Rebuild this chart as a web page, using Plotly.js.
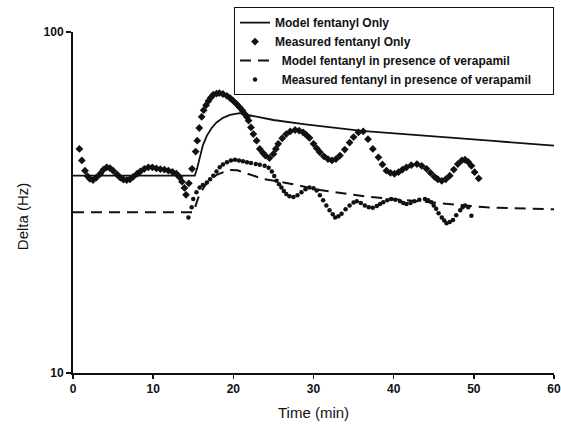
<!DOCTYPE html>
<html>
<head>
<meta charset="utf-8">
<script src="https://cdn.plot.ly/plotly-3.0.1.min.js"></script>
<style>html,body{margin:0;padding:0;background:#fff;}#chart{width:561px;height:434px;}</style>
</head>
<body>
<div id="chart"></div>
<script>
// Model fentanyl only
const modelFentT = [0, 15.2, 15.5, 15.8, 16.2, 16.7, 17.3, 17.9, 18.7, 19.6, 20.8, 21.6, 22, 25, 29, 36, 44, 52, 60];
const modelFentV = [37.9, 37.9, 40, 42.9, 46.5, 49.7, 52.3, 54.3, 56, 57.1, 57.8, 57.3, 57, 55.2, 53.6, 51.3, 49.5, 48, 46.4];

// Measured fentanyl only
const measFentT = [0.8, 1.1, 1.5, 1.8, 2.1, 2.5, 2.9, 3.4, 3.8, 4.2, 4.6, 5.0, 5.5, 5.9, 6.3, 6.7, 7.1, 7.5, 8.0, 8.4, 8.9, 9.4, 9.9, 10.4, 10.9, 11.4, 11.9, 12.4, 12.9, 13.3, 13.6, 13.9, 14.1, 14.45, 14.85, 15.3, 15.5, 15.75, 16.05, 16.3, 16.6, 16.9, 17.2, 17.5, 17.9, 18.25, 18.7, 19.2, 19.6, 20.0, 20.4, 20.8, 21.15, 21.45, 21.7, 21.9, 22.2, 22.5, 22.9, 23.3, 23.7, 24.0, 24.5, 25.0, 25.3, 25.6, 26.1, 26.6, 27.1, 27.7, 28.2, 28.7, 29.1, 29.5, 30.0, 30.4, 30.8, 31.3, 31.8, 32.3, 32.8, 33.3, 33.9, 34.5, 35.0, 35.6, 36.2, 36.8, 37.4, 38.1, 38.6, 39.1, 39.6, 40.1, 40.6, 41.1, 41.6, 42.2, 42.9, 43.5, 44.1, 44.6, 45.1, 45.5, 46.0, 46.5, 47.0, 47.5, 48.0, 48.5, 48.9, 49.3, 49.7, 50.1, 50.6];
const measFentV = [45.4, 42.0, 39.2, 37.8, 37.1, 36.8, 37.4, 38.4, 39.5, 40.1, 39.9, 39.2, 38.2, 37.4, 36.9, 36.8, 37.0, 37.6, 38.4, 39.0, 39.7, 40.1, 40.1, 39.8, 39.6, 39.5, 39.2, 38.9, 38.4, 37.5, 36.4, 34.9, 33.3, 36.0, 39.7, 44.6, 48.0, 52.3, 56.4, 59.0, 61.0, 62.8, 64.3, 65.5, 66.0, 66.2, 65.8, 65.0, 64.0, 62.8, 61.5, 60.1, 58.8, 57.4, 56.3, 55.0, 52.5, 50.2, 48.0, 45.4, 44.2, 43.4, 42.7, 43.9, 45.4, 47.0, 48.8, 50.2, 51.1, 51.6, 51.4, 50.8, 49.9, 48.9, 47.0, 45.6, 44.4, 43.2, 42.4, 42.0, 42.4, 43.4, 45.2, 47.4, 49.2, 50.8, 51.1, 48.5, 45.4, 42.9, 40.9, 39.2, 38.6, 38.4, 38.8, 39.5, 40.1, 40.7, 41.0, 40.5, 39.7, 38.6, 37.6, 37.0, 36.6, 37.0, 37.9, 39.5, 41.0, 42.0, 42.2, 41.6, 40.5, 38.8, 37.2];

// Model fentanyl in presence of verapamil
const modelVeraT = [0, 15, 15.3, 15.7, 16.3, 17, 18, 19.5, 20.5, 21.6, 23.7, 27.1, 29.1, 30.8, 36.6, 44.5, 51.6, 60];
const modelVeraV = [29.6, 29.6, 31, 33, 35, 36.8, 38.2, 39.4, 39.3, 38.5, 37.1, 35.9, 35, 34.4, 32.9, 31.7, 30.6, 30.2];

// Measured fentanyl in presence of verapamil
const measVeraT = [14.4, 14.8, 15.0, 15.4, 15.8, 16.2, 16.7, 17.1, 17.5, 17.9, 18.3, 18.7, 19.2, 19.7, 20.2, 20.7, 21.2, 21.7, 22.2, 22.8, 23.3, 23.9, 24.4, 24.8, 25.1, 25.4, 25.7, 26.0, 26.3, 26.6, 27.0, 27.5, 28.0, 28.5, 29.0, 29.5, 30.0, 30.4, 30.8, 31.2, 31.6, 32.0, 32.4, 32.7, 33.1, 33.5, 34.0, 34.5, 35.0, 35.4, 35.9, 36.4, 36.9, 37.4, 37.9, 38.3, 38.7, 39.2, 39.7, 40.2, 40.8, 41.2, 41.6, 42.1, 42.6, 43.2, 43.9, 44.3, 44.7, 45.0, 45.3, 45.6, 46.0, 46.3, 46.6, 47.0, 47.4, 47.8, 48.3, 48.6, 48.9, 49.3, 49.7];
const measVeraV = [28.6, 30.6, 32.4, 33.9, 35.0, 35.6, 36.2, 37.0, 37.9, 39.0, 40.1, 40.9, 41.5, 42.0, 42.2, 42.0, 41.8, 41.5, 41.3, 41.0, 40.8, 40.5, 40.0, 39.0, 37.8, 36.6, 35.8, 35.0, 34.2, 33.5, 33.0, 32.8, 33.2, 33.9, 34.6, 35.0, 34.8, 34.3, 33.2, 32.1, 31.0, 30.0, 29.2, 28.6, 28.8, 29.3, 30.2, 31.0, 31.6, 31.9, 31.5, 31.0, 30.6, 30.5, 30.9, 31.3, 31.7, 32.1, 32.4, 32.2, 31.9, 31.5, 31.3, 31.5, 31.9, 32.2, 32.4, 32.1, 31.7, 31.0, 30.3, 29.4, 28.6, 28.0, 27.5, 27.7, 28.1, 29.0, 30.0, 30.6, 31.0, 30.6, 28.9];

const xTicks = [0, 10, 20, 30, 40, 50, 60];
const yTicks = [10, 100];
const names = ['Model fentanyl Only', 'Measured fentanyl Only', '\u00a0\u00a0Model fentanyl in presence of verapamil', '\u00a0\u00a0Measured fentanyl in presence of verapamil\u00a0\u00a0\u00a0\u00a0\u00a0'];

const FONT = 'Liberation Sans, Arial, sans-serif';
const INK = '#111';

const traces = [
  {x: modelFentT, y: modelFentV, name: names[0], mode: 'lines', line: {color: INK, width: 1.8}},
  {x: measFentT, y: measFentV, name: names[1], mode: 'markers', marker: {symbol: 'diamond', size: 6, color: INK}},
  {x: modelVeraT, y: modelVeraV, name: names[2], mode: 'lines', line: {color: INK, width: 2, dash: '11px,7px'}},
  {x: measVeraT, y: measVeraV, name: names[3], mode: 'markers', marker: {symbol: 'circle', size: 4.5, color: INK}}
];

const layout = {
  width: 561, height: 434,
  margin: {l: 73, r: 7, t: 30, b: 61},
  paper_bgcolor: '#fff', plot_bgcolor: '#fff',
  showlegend: true,
  legend: {
    x: 1, y: 1.073, xanchor: 'right', yanchor: 'top',
    bgcolor: '#fff', bordercolor: INK, borderwidth: 1,
    font: {family: FONT, size: 12, color: INK, weight: 'bold'}
  },
  xaxis: {
    range: [0, 60], tickvals: xTicks, ticks: 'outside', ticklen: 4, tickwidth: 1.5, tickcolor: INK,
    showline: true, linecolor: INK, linewidth: 2, showgrid: false, zeroline: false,
    tickfont: {family: FONT, size: 12, color: INK, weight: 'bold'}
  },
  yaxis: {
    type: 'log', range: [1, 2], tickvals: yTicks, ticks: 'outside', ticklen: 5, tickwidth: 1.5, tickcolor: INK,
    showline: true, linecolor: INK, linewidth: 2, showgrid: false, zeroline: false,
    tickfont: {family: FONT, size: 12, color: INK, weight: 'bold'}
  },
  annotations: [
    {text: 'Time (min)', xref: 'paper', yref: 'paper', x: 0.5, y: -0.117, xanchor: 'center', yanchor: 'middle', showarrow: false,
     font: {family: FONT, size: 15, color: INK}},
    {text: 'Delta (Hz)', xref: 'paper', yref: 'paper', x: -0.106, y: 0.46, xanchor: 'center', yanchor: 'middle', textangle: -90, showarrow: false,
     font: {family: FONT, size: 15, color: INK}}
  ]
};

Plotly.newPlot('chart', traces, layout, {displayModeBar: false, staticPlot: true});
</script>
</body>
</html>
